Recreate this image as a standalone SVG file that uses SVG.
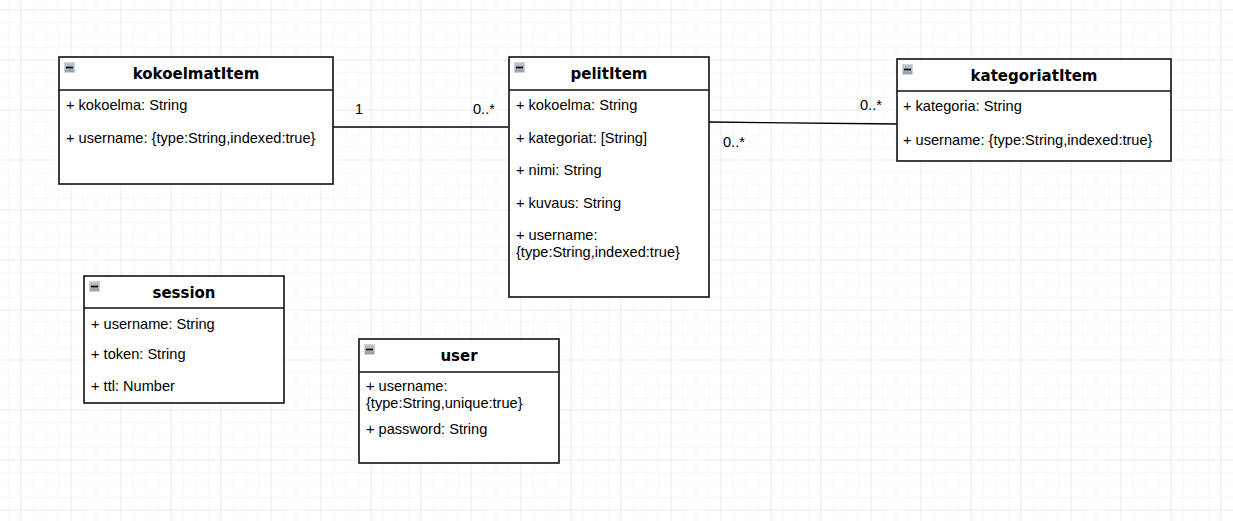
<svg xmlns="http://www.w3.org/2000/svg" width="1233" height="521" viewBox="0 0 1233 521">
<defs>
<pattern id="minor" x="20.5" y="9.5" width="12.5" height="12.5" patternUnits="userSpaceOnUse">
<path d="M0 0V12.5M0 0H12.5" stroke="#f2f2f2" stroke-width="1" fill="none"/>
</pattern>
<pattern id="major" x="20.5" y="9.5" width="50" height="50" patternUnits="userSpaceOnUse">
<path d="M0 0V50M0 0H50" stroke="#e4e4e4" stroke-width="1" fill="none"/>
</pattern>
<linearGradient id="ig" x1="0" y1="0" x2="0" y2="1">
<stop offset="0" stop-color="#c0c7ce"/>
<stop offset="1" stop-color="#959ea7"/>
</linearGradient>
<g id="icon">
<rect x="0.5" y="0.5" width="10" height="10" fill="url(#ig)" stroke="#d0d4d8" stroke-width="1"/>
<path d="M2 5.5H9" stroke="#000" stroke-width="1.6"/>
</g>
</defs>
<style>
.box{fill:#fff;stroke:#111;stroke-width:1.6}
.sep{stroke:#111;stroke-width:1.6}
.title{font-family:"DejaVu Sans",Verdana,sans-serif;font-weight:bold;font-size:15px;fill:#000;text-anchor:middle}
.attr{font-family:"Liberation Sans",Arial,sans-serif;font-size:14.6px;fill:#000}
.lbl{font-family:"Liberation Sans",Arial,sans-serif;font-size:14.6px;fill:#000}
.edge{stroke:#000;stroke-width:1.3;fill:none}
</style>
<rect width="1233" height="521" fill="#fff"/>
<rect width="1233" height="521" fill="url(#minor)"/>
<rect width="1233" height="521" fill="url(#major)"/>

<g id="connectors">
<path class="edge" d="M333 127H508"/>
<path class="edge" d="M709 122L897 124"/>
<text class="lbl" x="355" y="114">1</text>
<text class="lbl" x="473" y="114">0..*</text>
<text class="lbl" x="860" y="110">0..*</text>
<text class="lbl" x="723" y="147">0..*</text>
</g>

<g id="kokoelmatItem">
<rect class="box" x="59" y="57" width="274" height="127"/>
<path class="sep" d="M59 90H333"/>
<use href="#icon" x="64" y="62"/>
<text class="title" x="196" y="79">kokoelmatItem</text>
<text class="attr" x="66" y="110">+ kokoelma: String</text>
<text class="attr" x="66" y="143">+ username: {type:String,indexed:true}</text>
</g>

<g id="pelitItem">
<rect class="box" x="509" y="57" width="200" height="240"/>
<path class="sep" d="M509 90H709"/>
<use href="#icon" x="514" y="62"/>
<text class="title" x="609" y="79">pelitItem</text>
<text class="attr" x="516" y="110">+ kokoelma: String</text>
<text class="attr" x="516" y="143">+ kategoriat: [String]</text>
<text class="attr" x="516" y="175">+ nimi: String</text>
<text class="attr" x="516" y="208">+ kuvaus: String</text>
<text class="attr" x="516" y="240">+ username:</text>
<text class="attr" x="516" y="257">{type:String,indexed:true}</text>
</g>

<g id="kategoriatItem">
<rect class="box" x="897" y="59" width="274" height="102"/>
<path class="sep" d="M897 91H1171"/>
<use href="#icon" x="902" y="64"/>
<text class="title" x="1034" y="81">kategoriatItem</text>
<text class="attr" x="903" y="111">+ kategoria: String</text>
<text class="attr" x="903" y="145">+ username: {type:String,indexed:true}</text>
</g>

<g id="session">
<rect class="box" x="84" y="276" width="200" height="127"/>
<path class="sep" d="M84 308H284"/>
<use href="#icon" x="89" y="281"/>
<text class="title" x="184" y="298">session</text>
<text class="attr" x="91" y="329">+ username: String</text>
<text class="attr" x="91" y="359">+ token: String</text>
<text class="attr" x="91" y="391">+ ttl: Number</text>
</g>

<g id="user">
<rect class="box" x="359" y="339" width="200" height="124"/>
<path class="sep" d="M359 372H559"/>
<use href="#icon" x="364" y="344"/>
<text class="title" x="459" y="361">user</text>
<text class="attr" x="366" y="391">+ username:</text>
<text class="attr" x="366" y="408">{type:String,unique:true}</text>
<text class="attr" x="366" y="434">+ password: String</text>
</g>
</svg>
